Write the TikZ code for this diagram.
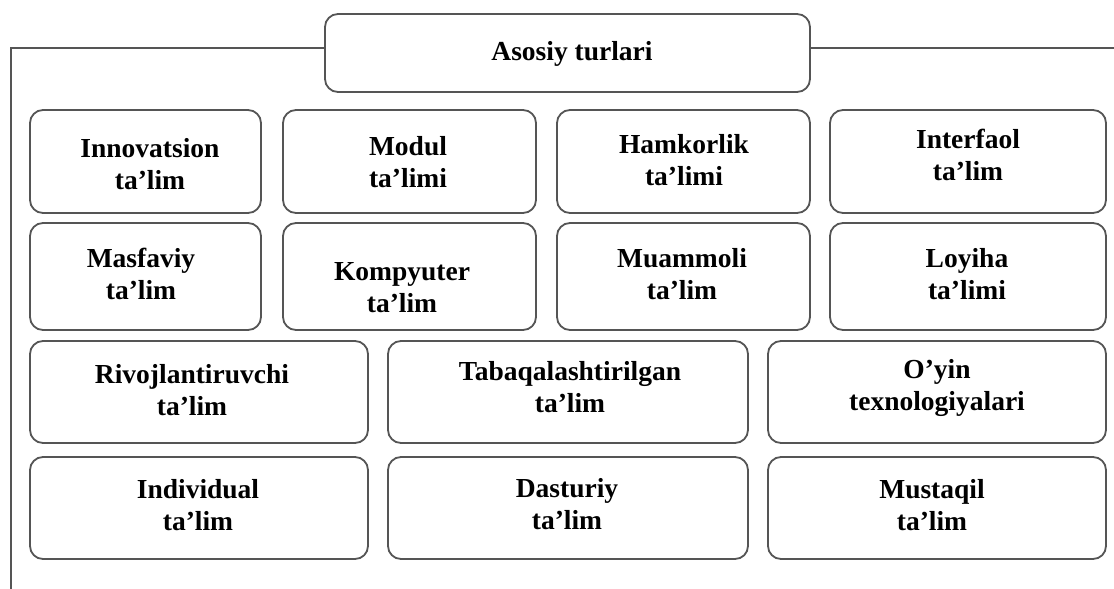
\documentclass[tikz,border=0pt]{standalone}
\usepackage{fontspec}
\setmainfont{Liberation Serif}
\usetikzlibrary{calc}
\definecolor{linegray}{RGB}{85,85,85}
\tikzset{
  bx/.style={draw=linegray, line width=1.8pt, rounded corners=13pt, inner sep=0pt, fill=white},
  tx/.style={font=\bfseries\fontsize{27.5}{32}\selectfont, align=center, inner sep=0pt, text=black},
  frame/.style={draw=linegray, line width=1.8pt}
}
\newcommand\mkbox[5]{\node[bx, minimum width={#4-#2}, minimum height={#5-#3}] (#1) at ({(#2+#4)/2},{(#3+#5)/2}) {};}
\begin{document}
\begin{tikzpicture}[x=1pt,y=-1pt]
\useasboundingbox (0,0) rectangle (1114,589);
% top box
\mkbox{top}{325}{14}{810}{92}
\node[tx] (ttop) at (572,53.6) {\strut Asosiy turlari};
% frame lines
\coordinate (L) at (11,589);
\coordinate (R) at (1114,48);
\draw[frame] (L) |- (top.west |- R);
\draw[frame] (top.east |- R) -- (R);
% row 1
\mkbox{b11}{30}{110}{261}{213}
\mkbox{b12}{283}{110}{536}{213}
\mkbox{b13}{557}{110}{810}{213}
\mkbox{b14}{830}{110}{1106}{213}
\node[tx] (t11) at (150,166.6) {\strut Innovatsion\\\strut ta’lim};
\node[tx] (t12) at (408,164.6) {\strut Modul\\\strut ta’limi};
\node[tx] (t13) at (684,162.6) {\strut Hamkorlik\\\strut ta’limi};
\node[tx] (t14) at (968,157.6) {\strut Interfaol\\\strut ta’lim};
% row 2
\mkbox{b21}{30}{223}{261}{330}
\mkbox{b22}{283}{223}{536}{330}
\mkbox{b23}{557}{223}{810}{330}
\mkbox{b24}{830}{223}{1106}{330}
\node[tx] (t21) at (141,276.6) {\strut Masfaviy\\\strut ta’lim};
\node[tx] (t22) at (402,289.6) {\strut Kompyuter\\\strut ta’lim};
\node[tx] (t23) at (682,276.6) {\strut Muammoli\\\strut ta’lim};
\node[tx] (t24) at (967,276.6) {\strut Loyiha\\\strut ta’limi};
% row 3
\mkbox{b31}{30}{341}{368}{443}
\mkbox{b32}{388}{341}{748}{443}
\mkbox{b33}{768}{341}{1106}{443}
\node[tx] (t31) at (192,392.6) {\strut Rivojlantiruvchi\\\strut ta’lim};
\node[tx] (t32) at (570,389.6) {\strut Tabaqalashtirilgan\\\strut ta’lim};
\node[tx] (t33) at (937,387.6) {\strut O’yin\\\strut texnologiyalari};
% row 4
\mkbox{b41}{30}{457}{368}{559}
\mkbox{b42}{388}{457}{748}{559}
\mkbox{b43}{768}{457}{1106}{559}
\node[tx] (t41) at (198,507.6) {\strut Individual\\\strut ta’lim};
\node[tx] (t42) at (567,506.6) {\strut Dasturiy\\\strut ta’lim};
\node[tx] (t43) at (932,507.6) {\strut Mustaqil\\\strut ta’lim};
\end{tikzpicture}
\end{document}
